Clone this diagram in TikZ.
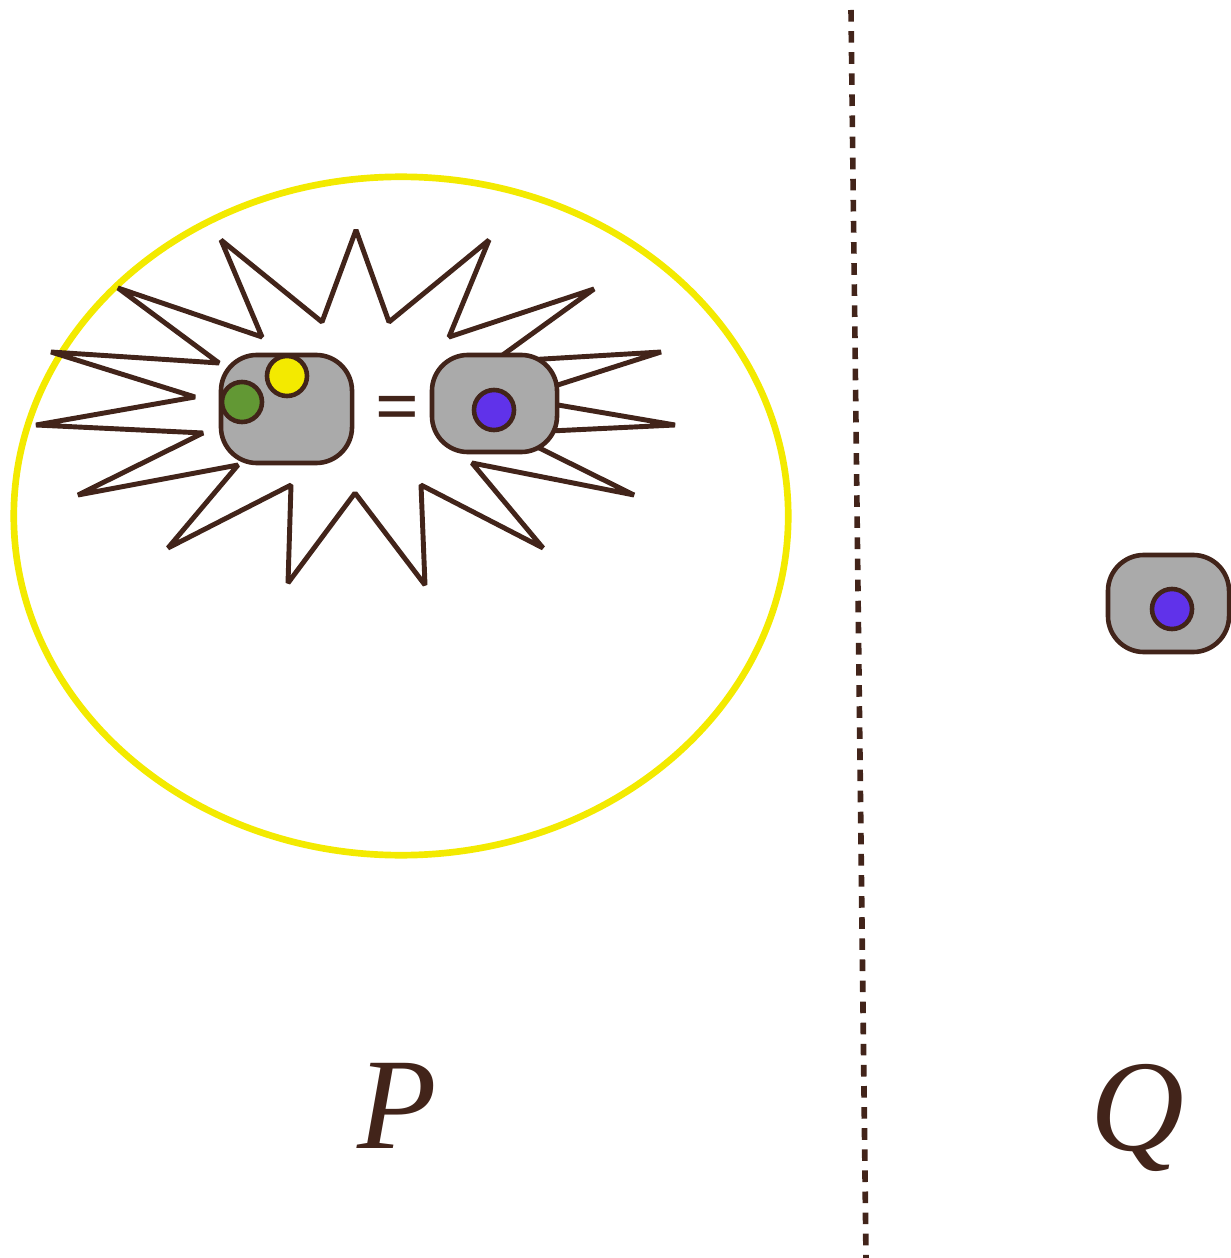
\documentclass[tikz,border=0pt]{standalone}
\usepackage{fontspec}
\setmainfont{Liberation Serif}
\definecolor{bark}{RGB}{66,36,26}
\definecolor{sun}{RGB}{243,234,0}
\definecolor{leaf}{RGB}{98,152,52}
\definecolor{ionblue}{RGB}{96,50,234}
\definecolor{cellgray}{RGB}{170,170,170}
\tikzset{
  cellbox/.style={draw=bark, line width=1.3pt, fill=cellgray, rounded corners=0.36cm, inner sep=0pt},
  ball/.style={circle, draw=bark, line width=1.3pt, minimum size=0.40cm, inner sep=0pt},
  biglabel/.style={text=bark, font=\fontsize{37}{44}\selectfont\itshape, anchor=base, inner sep=0pt}
}

\begin{document}
\begin{tikzpicture}[x=0.01cm, y=-0.01cm]
			\useasboundingbox (0,0) rectangle (1230,1258);
			\draw[sun, line width=1.9pt] (401,516) ellipse [x radius=3.87cm, y radius=3.39cm];
			\draw[bark, fill=white, line width=1.4pt, line join=bevel] (356,230) -- (389,322) -- (489,240) -- (449,337) -- (594,289) -- (493,362) -- (661,352) -- (517,398) -- (675,425) -- (509,433) -- (634,495) -- (472,463) -- (543,548) -- (421,485) -- (425,585) -- (355,493) -- (288,583) -- (291,485) -- (168,548) -- (238,465) -- (78,495) -- (203,433) -- (36,425) -- (195,397) -- (51,352) -- (219,363) -- (118,288) -- (262,337) -- (221,240) -- (322,322) -- cycle;
			\node[cellbox, minimum width=1.31cm, minimum height=1.08cm] (leftcell) at (286.5,409) {};
			\node[ball, fill=leaf] (greenion) at (242,402) {};
			\node[ball, fill=sun] (yellowion) at (287,376) {};
			\node[text=bark, font=\fontsize{22}{26}\selectfont\bfseries, inner sep=0pt] (equals) at (398,414) {=};
			\node[cellbox, minimum width=1.25cm, minimum height=0.97cm] (midcell) at (494.5,403.5) {};
			\node[ball, fill=ionblue] (midion) at (494,410) {};
			\node[cellbox, minimum width=1.21cm, minimum height=0.97cm] (farcell) at (1168.5,603.5) {};
			\node[ball, fill=ionblue] (farion) at (1172,609) {};
			\coordinate (wallTop) at (851,10);
			\coordinate (wallBottom) at (866,1258);
			\draw[bark, line width=1.6pt, dash pattern=on 3.3pt off 2.7pt] (wallTop) -- (wallBottom);
			\node[biglabel] (plabel) at (397,1148) {P};
			\node[biglabel] (qlabel) at (1137,1150) {Q};
		\end{tikzpicture}
\end{document}
